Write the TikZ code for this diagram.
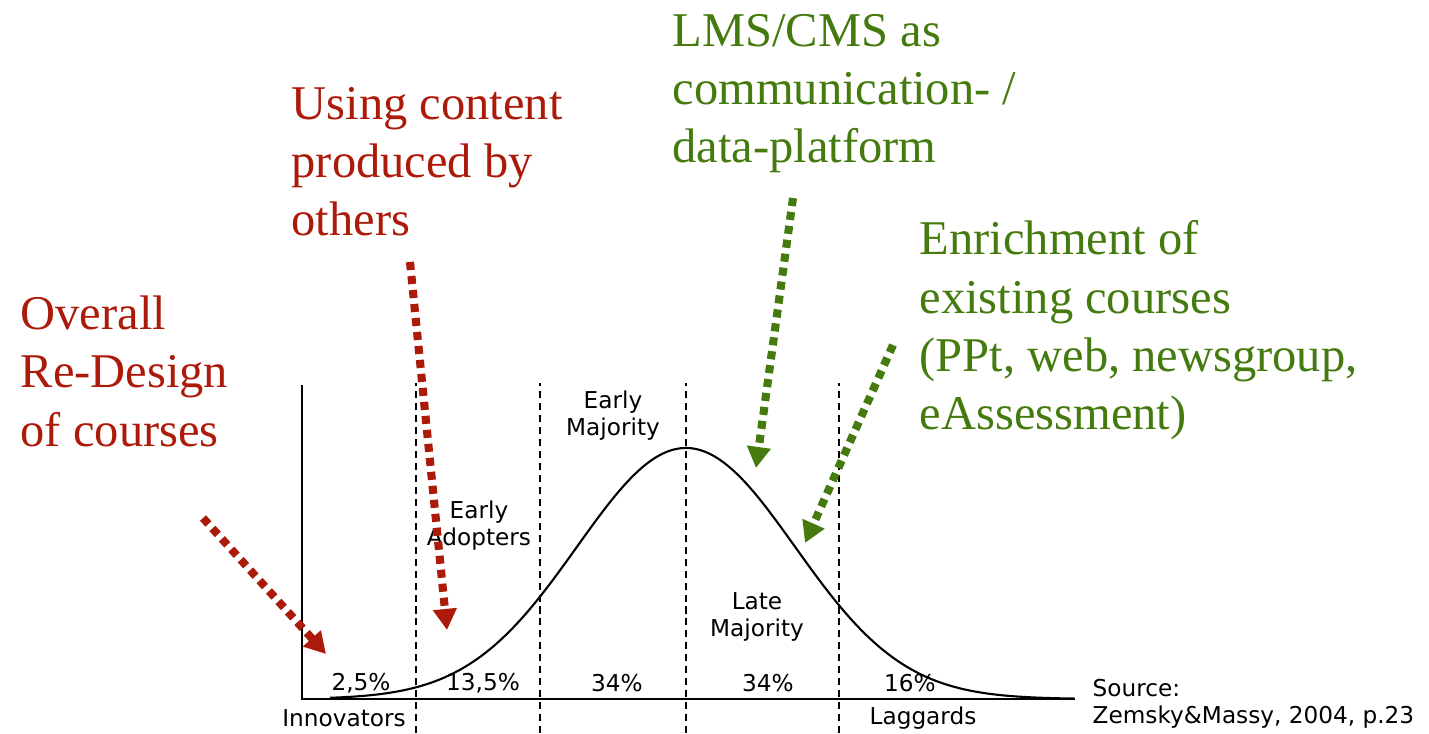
\documentclass[tikz,border=0pt]{standalone}
\usepackage{fontspec}
\setmainfont{Liberation Serif}
\newfontfamily\chartfont{DejaVu Sans}
\usepackage{tikz}
\usetikzlibrary{positioning,arrows.meta}

\definecolor{ideared}{RGB}{172,26,10}
\definecolor{ideagreen}{RGB}{68,122,14}

\begin{document}
\begin{tikzpicture}[%
        x=1cm, y=1cm,
        idea/.style={%
          anchor=base west,
          align=left,
          inner sep=0pt,
          font=\fontsize{13.8}{16.6}\selectfont
        },
        chartlabel/.style={%
          align=center,
          inner sep=0pt,
          font=\chartfont\fontsize{6.6}{7.7}\selectfont
        },
        hint/.style={%
          line width=2.3pt,
          dash pattern=on 2.3pt off 1.7pt,
          -{Triangle[length=6pt,width=6.5pt]}
        },
        divider/.style={%
          line width=0.6pt,
          dash pattern=on 2pt off 1.4pt
        }
      ]
      \useasboundingbox (0,0) rectangle (14.29,7.33);

      % axes and curve
      \draw[line width=0.8pt] (3.02,3.48) -- (3.02,0.34) -- (10.75,0.34);
      \draw[line width=0.6pt] plot[domain=3.3:10.75, samples=120, smooth]
        (\x, {0.34+2.51*exp(-((\x-6.86)^2)/(2*1.09^2))});
      \foreach \xpos in {4.16,5.40,6.86,8.39}
        \draw[divider] (\xpos,0) -- (\xpos,3.50);

      % chart labels
      \node[chartlabel] (earlymaj) at (6.13,3.17) {Early\\Majority};
      \node[chartlabel] (earlyadopt) at (4.79,2.07) {Early\\Adopters};
      \node[chartlabel] (latemaj) at (7.57,1.16) {Late\\Majority};
      \node[chartlabel] (p1) at (3.61,0.50) {2,5\%};
      \node[chartlabel] (p2) at (4.83,0.50) {13,5\%};
      \node[chartlabel] (p3) at (6.17,0.50) {34\%};
      \node[chartlabel] (p4) at (7.68,0.50) {34\%};
      \node[chartlabel] (p5) at (9.10,0.50) {16\%};
      \node[chartlabel] (innov) at (3.44,0.15) {Innovators};
      \node[chartlabel] (lagg) at (9.23,0.15) {Laggards};
      \node[chartlabel, align=left, anchor=west] (source) at (10.92,0.29)
        {Source:\\Zemsky\&Massy, 2004, p.23};

      % comments on the curve (base = last line)
      \node[idea, text=ideared] (redesign) at (0.20,2.87)
        {Overall\\Re-Design\\of courses};
      \node[idea, text=ideared] (reuse) at (2.91,4.97)
        {Using content\\produced by\\others};
      \node[idea, text=ideagreen] (lms) at (6.72,5.70)
        {LMS/CMS as\\communication- /\\data-platform};
      \node[idea, text=ideagreen] (enrich) at (9.19,3.03)
        {Enrichment of\\existing courses\\(PPt, web, newsgroup,\\eAssessment)};

      \coordinate (redesign-from) at (2.03,2.15);
      \coordinate (redesign-to) at (3.26,0.79);
      \coordinate (reuse-from) at (4.10,4.71);
      \coordinate (reuse-to) at (4.47,1.03);
      \coordinate (lms-from) at (7.93,5.35);
      \coordinate (lms-to) at (7.56,2.65);
      \coordinate (enrich-from) at (8.93,3.88);
      \coordinate (enrich-to) at (8.05,1.90);

      \draw[hint, ideared] (redesign-from) -- (redesign-to);
      \draw[hint, ideared] (reuse-from) -- (reuse-to);
      \draw[hint, ideagreen] (lms-from) -- (lms-to);
      \draw[hint, ideagreen] (enrich-from) -- (enrich-to);
    \end{tikzpicture}
\end{document}
